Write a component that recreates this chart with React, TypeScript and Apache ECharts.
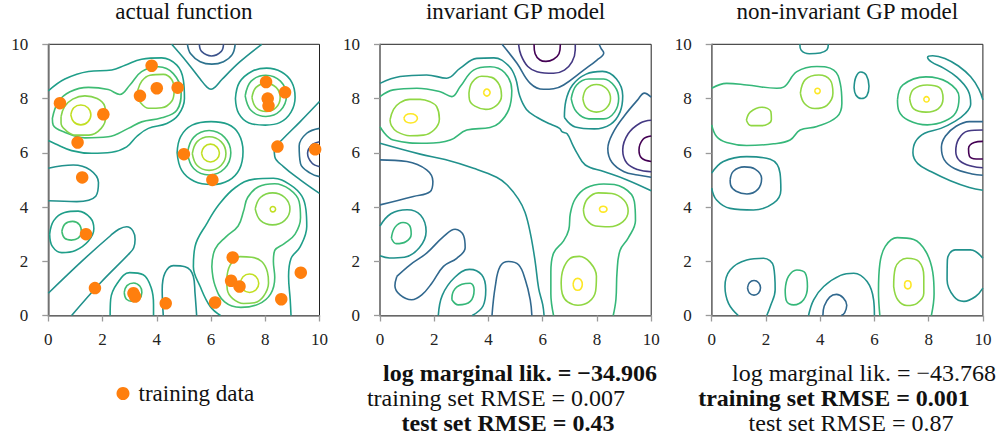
import React, { useEffect, useRef } from "react";
import * as echarts from "echarts";

type Pt = [number, number];
type Contour = [number, Pt[]];

// ---------------- data ----------------
const axisRange = [0, 10];
const axisStep = 2;

const panelTitles = ["actual function", "invariant GP model", "non-invariant GP model"];

const trainingPoints: Pt[] = [
  [0.43, 7.83], [1.08, 6.38], [2.03, 7.42], [1.25, 5.09], [1.39, 3.0], [1.72, 1.01],
  [3.14, 0.82], [3.2, 0.7], [4.33, 0.45], [3.38, 8.1], [3.81, 9.21], [4.0, 8.38],
  [4.77, 8.4], [5.0, 5.95], [6.05, 5.0], [6.15, 0.48], [6.8, 2.14], [6.74, 1.28],
  [7.05, 1.07], [8.03, 8.61], [8.09, 8.0], [8.12, 7.73], [8.73, 8.23], [8.45, 6.23],
  [9.84, 6.13], [9.31, 1.58], [8.59, 0.6],
];

const statLabels = ["log marginal lik.", "training set RMSE", "test set RMSE"];
const invariantStats = ["−34.906", "0.007", "0.43"];
const invariantBest = [true, false, true];
const nonInvariantStats = ["−43.768", "0.001", "0.87"];
const nonInvariantBest = [false, true, false];

// contour level index + traced points (x, y)
const actualContours: Contour[] = [
  [2, [[4.55, 10], [5.1, 9.36], [5.6, 8.72], [5.85, 8.42], [6.0, 8.34], [6.15, 8.42], [6.4, 8.7], [7.07, 9.36], [7.87, 10]]],
  [1, [[5.13, 10], [5.25, 9.65], [5.6, 9.36], [6.03, 9.27], [6.46, 9.36], [6.78, 9.62], [6.89, 10]]],
  [0, [[5.57, 10], [5.65, 9.74], [6.02, 9.57], [6.38, 9.74], [6.46, 10]]],
  [3, [[0, 8.28], [0.61, 8.72], [1.48, 9.0], [2.34, 9.05], [2.83, 9.23], [3.44, 9.45], [4.18, 9.5], [4.74, 9.23], [4.98, 8.68], [5.02, 8.0], [4.8, 7.4], [4.37, 7.08], [3.69, 6.9], [3.26, 6.6], [2.89, 6.22], [2.34, 6.02], [1.6, 5.98], [0.86, 6.08], [0.25, 6.33], [0, 6.45]]],
  [4, [[0.15, 7.27], [0.37, 7.88], [0.8, 8.25], [1.48, 8.41], [2.21, 8.33], [2.64, 8.15], [3.01, 8.5], [3.44, 8.99], [4.06, 9.17], [4.61, 8.92], [4.9, 8.25], [4.74, 7.57], [4.18, 7.29], [3.44, 7.14], [2.95, 6.9], [2.21, 6.59], [1.35, 6.55], [0.62, 6.75], [0.18, 7.02], [0.15, 7.27]]],
  [5, [[0.47, 7.33], [0.6, 7.7], [0.9, 7.98], [1.35, 8.1], [1.8, 8.0], [2.08, 7.72], [2.12, 7.35], [1.95, 6.9], [1.5, 6.65], [1.0, 6.65], [0.62, 6.85], [0.47, 7.1], [0.47, 7.33]]],
  [6, [[0.83, 7.4], [0.94, 7.66], [1.2, 7.76], [1.46, 7.66], [1.57, 7.4], [1.46, 7.14], [1.2, 7.03], [0.94, 7.14], [0.83, 7.4]]],
  [5, [[3.3, 8.31], [3.45, 8.65], [3.75, 8.86], [4.24, 8.89], [4.55, 8.7], [4.64, 8.3], [4.55, 7.9], [4.18, 7.66], [3.7, 7.64], [3.4, 7.85], [3.3, 8.1], [3.3, 8.31]]],
  [3, [[4.75, 6.0], [4.88, 6.6], [5.3, 7.02], [6.0, 7.15], [6.62, 7.05], [7.02, 6.7], [7.18, 6.05], [7.05, 5.4], [6.65, 4.98], [6.02, 4.83], [5.38, 4.95], [4.92, 5.35], [4.75, 6.0]]],
  [4, [[5.13, 6.0], [5.36, 6.57], [5.93, 6.82], [6.5, 6.57], [6.73, 6.0], [6.5, 5.42], [5.93, 5.18], [5.36, 5.42], [5.13, 6.0]]],
  [5, [[5.31, 5.97], [5.49, 6.41], [5.93, 6.59], [6.37, 6.41], [6.55, 5.97], [6.37, 5.53], [5.93, 5.35], [5.49, 5.53], [5.31, 5.97]]],
  [6, [[5.65, 5.99], [5.75, 6.22], [5.98, 6.32], [6.21, 6.22], [6.31, 5.99], [6.21, 5.76], [5.98, 5.66], [5.75, 5.76], [5.65, 5.99]]],
  [3, [[6.9, 8.0], [7.05, 8.6], [7.5, 9.0], [8.05, 9.12], [8.6, 8.98], [8.98, 8.6], [9.1, 8.05], [8.95, 7.5], [8.55, 7.12], [8.0, 7.02], [7.4, 7.1], [7.02, 7.45], [6.9, 8.0]]],
  [4, [[7.26, 8.1], [7.48, 8.64], [8.02, 8.86], [8.56, 8.64], [8.78, 8.1], [8.56, 7.56], [8.02, 7.34], [7.48, 7.56], [7.26, 8.1]]],
  [5, [[7.51, 8.04], [7.66, 8.41], [8.03, 8.56], [8.4, 8.41], [8.55, 8.04], [8.4, 7.67], [8.03, 7.52], [7.66, 7.67], [7.51, 8.04]]],
  [2, [[10, 7.89], [9.29, 7.15], [8.61, 6.47], [8.33, 6.15], [8.35, 5.86], [8.67, 5.49], [9.29, 5.0], [10, 4.5]]],
  [1, [[10, 6.9], [9.53, 6.72], [9.25, 6.25], [9.3, 5.6], [9.66, 5.25], [10, 5.12]]],
  [0, [[10, 6.41], [9.72, 6.29], [9.56, 5.98], [9.72, 5.62], [10, 5.49]]],
  [3, [[6.35, 0], [5.97, 0.33], [5.6, 1.07], [5.35, 1.8], [5.41, 2.54], [5.85, 3.4], [6.3, 4.1], [6.9, 4.72], [7.6, 5.03], [8.3, 5.06], [8.95, 4.8], [9.35, 4.4], [9.5, 3.9], [9.53, 3.28], [9.29, 2.54], [8.95, 2.1], [8.86, 1.44], [8.92, 0.58], [8.95, 0]]],
  [4, [[6.03, 1.8], [6.15, 2.45], [6.55, 2.9], [7.0, 3.3], [7.2, 3.85], [7.35, 4.35], [7.75, 4.75], [8.35, 4.86], [8.9, 4.65], [9.25, 4.2], [9.3, 3.6], [9.1, 3.0], [8.7, 2.65], [8.35, 2.4], [8.3, 2.0], [8.35, 1.4], [8.2, 0.8], [7.75, 0.42], [7.1, 0.3], [6.5, 0.5], [6.15, 1.1], [6.03, 1.8]]],
  [5, [[7.63, 3.93], [7.82, 4.35], [8.27, 4.52], [8.72, 4.35], [8.91, 3.93], [8.72, 3.51], [8.27, 3.34], [7.82, 3.51], [7.63, 3.93]]],
  [6, [[8.18, 3.92], [8.21, 3.99], [8.28, 4.02], [8.35, 3.99], [8.38, 3.92], [8.35, 3.85], [8.28, 3.82], [8.21, 3.85], [8.18, 3.92]]],
  [5, [[6.58, 1.32], [6.7, 1.85], [7.07, 2.17], [7.5, 2.15], [7.87, 1.99], [8.08, 1.6], [8.12, 1.2], [7.93, 0.7], [7.6, 0.47], [7.2, 0.44], [6.8, 0.62], [6.6, 0.95], [6.58, 1.32]]],
  [6, [[7.08, 1.19], [7.18, 1.43], [7.42, 1.53], [7.66, 1.43], [7.76, 1.19], [7.66, 0.95], [7.42, 0.85], [7.18, 0.95], [7.08, 1.19]]],
  [3, [[0.05, 3.0], [0.2, 3.5], [0.6, 3.8], [1.1, 3.85], [1.55, 3.6], [1.68, 3.2], [1.48, 2.75], [1.0, 2.4], [0.5, 2.32], [0.15, 2.55], [0.05, 3.0]]],
  [4, [[0.5, 3.1], [0.62, 3.38], [0.9, 3.47], [1.15, 3.35], [1.22, 3.08], [1.1, 2.85], [0.85, 2.78], [0.6, 2.85], [0.5, 3.1]]],
  [3, [[2.28, 0], [2.3, 0.6], [2.55, 1.2], [3.0, 1.58], [3.5, 1.5], [3.8, 1.0], [3.88, 0.4], [3.88, 0]]],
  [4, [[2.8, 0.85], [2.9, 1.1], [3.15, 1.2], [3.38, 1.08], [3.45, 0.85], [3.35, 0.6], [3.12, 0.52], [2.88, 0.6], [2.8, 0.85]]],
  [2, [[0, 0.82], [1.29, 2.05], [2.3, 2.95], [2.6, 3.18], [2.89, 3.27], [3.12, 3.12], [3.2, 2.8], [3.15, 2.5], [3.0, 2.3], [1.91, 1.19], [0.86, 0]]],
  [2, [[4.24, 0], [4.2, 0.95], [4.3, 1.56], [4.61, 1.84], [5.04, 1.8], [5.35, 1.44], [5.41, 0.82], [5.47, 0]]],
  [2, [[0, 5.43], [0.92, 5.55], [1.54, 5.37], [1.85, 4.9], [1.75, 4.4], [1.05, 4.2], [0, 4.23]]],
];

const invariantContours: Contour[] = [
  [0, [[5.68, 10], [5.72, 9.65], [5.9, 9.42], [6.12, 9.37], [6.4, 9.45], [6.6, 9.65], [6.65, 10]]],
  [1, [[5.11, 10], [5.2, 9.6], [5.45, 9.18], [5.79, 8.99], [6.4, 8.93], [6.8, 9.05], [7.08, 9.35], [7.2, 9.8], [7.2, 10]]],
  [2, [[4.5, 10], [5.05, 9.3], [5.54, 8.56], [6.03, 8.34], [6.4, 8.36], [6.77, 8.5], [7.51, 9.05], [8.0, 9.42], [8.25, 9.68], [8.15, 9.85], [8.08, 10]]],
  [3, [[0, 8.56], [0.74, 8.81], [1.72, 8.87], [2.46, 8.75], [2.96, 9.12], [3.57, 9.48], [4.2, 9.5], [4.75, 9.2], [5.0, 8.75], [5.15, 8.1], [5.4, 7.6], [5.8, 7.3], [6.3, 7.05], [6.62, 6.9], [6.72, 6.77], [6.9, 6.7], [7.1, 6.3], [7.27, 5.98], [7.57, 5.55], [8.25, 5.31], [9.11, 5.0], [10, 4.6]]],
  [3, [[0, 6.35], [1.48, 5.95], [2.4, 5.75], [3.45, 5.43], [4.3, 5.1], [4.68, 4.82], [5.1, 4.3], [5.35, 3.8], [5.55, 3.0], [5.72, 2.0], [5.85, 1.0], [6.0, 0.4], [6.05, 0]]],
  [3, [[6.8, 7.3], [6.85, 7.9], [7.1, 8.5], [7.6, 8.9], [8.2, 9.0], [8.72, 8.72], [8.95, 8.1], [8.85, 7.5], [8.5, 7.05], [7.9, 6.88], [7.2, 6.95], [6.8, 7.3]]],
  [4, [[7.05, 8.0], [7.25, 8.5], [7.7, 8.72], [8.25, 8.72], [8.65, 8.45], [8.8, 8.0], [8.65, 7.5], [8.25, 7.25], [7.7, 7.25], [7.25, 7.5], [7.05, 8.0]]],
  [5, [[7.48, 8.0], [7.62, 8.37], [7.98, 8.52], [8.35, 8.37], [8.5, 8.0], [8.35, 7.65], [7.98, 7.5], [7.62, 7.65], [7.48, 8.0]]],
  [2, [[10, 8.05], [9.75, 8.2], [9.5, 7.95], [9.0, 7.35], [8.6, 6.75], [8.4, 6.15], [8.55, 5.65], [9.0, 5.3], [9.5, 5.18], [10, 5.1]]],
  [1, [[10, 7.2], [9.6, 7.1], [9.15, 6.7], [8.95, 6.1], [9.1, 5.62], [9.5, 5.38], [10, 5.3]]],
  [0, [[10, 6.62], [9.7, 6.5], [9.55, 6.1], [9.65, 5.8], [10, 5.68]]],
  [4, [[0, 8.07], [0.49, 8.32], [1.36, 8.38], [2.22, 8.25], [2.65, 8.07], [2.96, 8.44], [3.45, 9.05], [4.06, 9.17], [4.6, 8.95], [4.86, 8.3], [4.75, 7.6], [4.4, 7.1], [4.06, 6.93], [3.2, 6.84], [2.59, 6.47], [1.72, 6.35], [0.49, 6.47], [0, 6.96]]],
  [5, [[0.37, 7.21], [0.5, 7.6], [0.74, 7.85], [1.1, 7.97], [1.48, 7.97], [1.85, 7.88], [2.09, 7.7], [2.19, 7.25], [2.0, 6.85], [1.6, 6.65], [1.1, 6.63], [0.62, 6.78], [0.42, 7.0], [0.37, 7.21]]],
  [6, [[0.88, 7.27], [0.95, 7.39], [1.13, 7.44], [1.31, 7.39], [1.38, 7.27], [1.31, 7.15], [1.13, 7.1], [0.95, 7.15], [0.88, 7.27]]],
  [5, [[3.28, 8.2], [3.4, 8.6], [3.75, 8.82], [4.12, 8.78], [4.4, 8.5], [4.48, 8.1], [4.3, 7.75], [3.9, 7.6], [3.5, 7.72], [3.3, 7.95], [3.28, 8.2]]],
  [6, [[3.82, 8.22], [3.86, 8.31], [3.94, 8.35], [4.02, 8.31], [4.06, 8.22], [4.02, 8.13], [3.94, 8.09], [3.86, 8.13], [3.82, 8.22]]],
  [2, [[0.62, 1.44], [1.11, 1.87], [1.72, 2.3], [2.34, 2.91], [2.77, 3.18], [3.08, 2.95], [3.14, 2.5], [2.83, 2.11], [2.34, 1.81], [1.91, 1.19], [1.54, 0.76], [1.17, 0.58], [0.74, 0.76], [0.55, 1.1], [0.62, 1.44]]],
  [2, [[0, 5.74], [0.99, 5.68], [1.72, 5.37], [1.95, 4.94], [1.85, 4.57], [1.23, 4.39], [0, 4.08]]],
  [3, [[0, 3.3], [0.4, 3.75], [1.0, 3.9], [1.5, 3.7], [1.7, 3.1], [1.45, 2.5], [0.9, 2.15], [0.35, 2.12], [0, 2.2]]],
  [4, [[0.42, 2.85], [0.55, 3.25], [0.85, 3.43], [1.1, 3.3], [1.15, 3.0], [0.95, 2.72], [0.6, 2.65], [0.42, 2.85]]],
  [3, [[2.15, 0], [2.3, 0.75], [2.75, 1.4], [3.3, 1.7], [3.75, 1.5], [3.9, 0.95], [3.8, 0.35], [3.4, 0]]],
  [4, [[2.65, 0.58], [2.71, 0.9], [3.02, 1.15], [3.33, 1.19], [3.47, 0.95], [3.33, 0.52], [2.89, 0.39], [2.65, 0.58]]],
  [2, [[4.13, 0], [4.25, 1.07], [4.43, 1.81], [4.74, 1.99], [5.11, 1.87], [5.36, 1.31], [5.54, 0.58], [5.6, 0]]],
  [4, [[6.4, 0], [6.3, 0.8], [6.3, 1.6], [6.4, 2.3], [6.77, 2.75], [6.96, 3.16], [7.02, 3.77], [7.2, 4.3], [7.6, 4.7], [8.25, 4.85], [8.99, 4.7], [9.38, 4.2], [9.42, 3.5], [9.15, 2.85], [8.85, 2.4], [8.74, 1.6], [8.7, 0.6], [8.6, 0]]],
  [5, [[7.5, 3.9], [7.65, 4.3], [8.05, 4.52], [8.55, 4.5], [9.0, 4.25], [9.15, 3.85], [8.95, 3.45], [8.45, 3.27], [7.95, 3.3], [7.6, 3.55], [7.5, 3.9]]],
  [6, [[8.09, 3.92], [8.13, 4.0], [8.23, 4.03], [8.33, 4.0], [8.37, 3.92], [8.33, 3.84], [8.23, 3.81], [8.13, 3.84], [8.09, 3.92]]],
  [5, [[6.68, 1.2], [6.75, 1.7], [7.0, 2.1], [7.35, 2.18], [7.75, 1.95], [7.98, 1.45], [7.95, 0.9], [7.7, 0.5], [7.3, 0.38], [6.92, 0.5], [6.72, 0.8], [6.68, 1.2]]],
  [6, [[7.12, 1.15], [7.17, 1.31], [7.29, 1.37], [7.41, 1.31], [7.46, 1.15], [7.41, 0.99], [7.29, 0.93], [7.17, 0.99], [7.12, 1.15]]],
];

const nonInvariantContours: Contour[] = [
  [3, [[3.25, 10], [3.3, 9.78], [3.6, 9.65], [4.0, 9.68], [4.25, 9.8], [4.3, 10]]],
  [4, [[0, 8.38], [0.55, 8.56], [1.29, 8.5], [2.4, 8.38], [2.65, 8.42], [3.14, 8.99], [3.88, 9.18], [4.5, 9.05], [4.74, 8.56], [4.8, 7.83], [4.62, 7.33], [3.88, 6.97], [3.26, 6.84], [2.89, 6.47], [2.28, 6.33], [1.29, 6.27], [0.55, 6.38], [0.18, 6.6], [0, 7.03]]],
  [5, [[1.28, 7.2], [1.42, 7.5], [1.85, 7.68], [2.18, 7.52], [2.2, 7.22], [1.85, 7.0], [1.45, 7.0], [1.28, 7.2]]],
  [5, [[3.27, 8.2], [3.45, 8.7], [3.95, 8.87], [4.37, 8.68], [4.47, 8.2], [4.25, 7.75], [3.8, 7.63], [3.42, 7.82], [3.27, 8.2]]],
  [6, [[3.8, 8.28], [3.83, 8.35], [3.9, 8.38], [3.97, 8.35], [4.0, 8.28], [3.97, 8.21], [3.9, 8.18], [3.83, 8.21], [3.8, 8.28]]],
  [3, [[10, 7.95], [9.85, 8.35], [9.55, 8.8], [9.1, 9.2], [8.6, 9.48], [8.15, 9.58], [7.96, 9.52], [8.1, 9.35], [8.55, 9.12], [9.05, 8.78], [9.45, 8.3], [9.55, 7.8], [9.35, 7.45], [8.95, 7.15], [8.45, 6.9], [7.85, 6.72], [7.52, 6.42], [7.42, 6.0], [7.6, 5.6], [8.1, 5.3], [8.8, 4.97], [9.5, 4.72], [10, 4.62]]],
  [2, [[10, 7.15], [9.5, 7.15], [9.0, 6.97], [8.62, 6.62], [8.47, 6.2], [8.57, 5.75], [8.95, 5.42], [9.6, 5.22], [10, 5.17]]],
  [1, [[10, 6.84], [9.45, 6.8], [9.1, 6.5], [9.0, 6.05], [9.15, 5.7], [9.6, 5.5], [10, 5.45]]],
  [0, [[10, 6.42], [9.68, 6.38], [9.47, 6.15], [9.5, 5.88], [9.75, 5.77], [10, 5.77]]],
  [4, [[6.85, 7.95], [7.05, 8.5], [7.9, 8.8], [8.7, 8.6], [9.12, 8.05], [9.0, 7.48], [8.6, 7.17], [7.95, 7.03], [7.25, 7.2], [6.9, 7.55], [6.85, 7.95]]],
  [5, [[7.3, 8.0], [7.45, 8.35], [7.94, 8.5], [8.4, 8.4], [8.53, 8.0], [8.35, 7.62], [7.9, 7.5], [7.45, 7.62], [7.3, 8.0]]],
  [6, [[7.82, 7.97], [7.85, 8.04], [7.92, 8.07], [7.99, 8.04], [8.02, 7.97], [7.99, 7.9], [7.92, 7.87], [7.85, 7.9], [7.82, 7.97]]],
  [3, [[5.25, 8.4], [5.32, 8.8], [5.5, 8.98], [5.7, 8.86], [5.8, 8.45], [5.72, 8.1], [5.52, 8.0], [5.32, 8.12], [5.25, 8.4]]],
  [3, [[0, 5.25], [0.43, 5.68], [1.29, 5.86], [2.16, 5.76], [2.52, 5.25], [2.55, 4.63], [2.28, 4.14], [1.54, 3.89], [0.68, 3.95], [0.18, 4.26], [0, 4.7]]],
  [2, [[0.68, 5.0], [0.8, 5.32], [1.2, 5.48], [1.6, 5.4], [1.84, 5.05], [1.7, 4.65], [1.3, 4.48], [0.9, 4.58], [0.7, 4.8], [0.68, 5.0]]],
  [3, [[0.98, 0], [0.62, 0.45], [0.49, 1.07], [0.68, 1.68], [1.29, 2.05], [1.91, 2.11], [2.28, 1.81], [2.34, 0.95], [2.16, 0.33], [2.03, 0]]],
  [2, [[1.32, 1.02], [1.39, 1.21], [1.56, 1.29], [1.73, 1.21], [1.8, 1.02], [1.73, 0.83], [1.56, 0.75], [1.39, 0.83], [1.32, 1.02]]],
  [4, [[2.71, 0.95], [2.83, 1.44], [3.14, 1.68], [3.45, 1.56], [3.53, 1.07], [3.39, 0.58], [3.02, 0.39], [2.75, 0.55], [2.71, 0.95]]],
  [3, [[3.57, 0], [3.76, 0.58], [4.13, 1.07], [4.75, 1.48], [5.24, 1.56], [5.73, 1.25], [5.97, 0.58], [6.0, 0]]],
  [2, [[4.1, 0], [4.15, 0.35], [4.35, 0.68], [4.6, 0.78], [4.85, 0.65], [4.98, 0.38], [4.9, 0.1], [4.78, 0]]],
  [4, [[6.2, 0], [6.15, 0.9], [6.2, 1.9], [6.4, 2.55], [6.84, 2.87], [7.45, 2.8], [7.9, 2.35], [8.15, 1.6], [8.2, 0.8], [8.1, 0]]],
  [5, [[6.71, 1.07], [6.77, 1.75], [7.2, 2.11], [7.64, 1.99], [7.82, 1.44], [7.82, 0.82], [7.57, 0.45], [7.2, 0.37], [6.86, 0.58], [6.71, 1.07]]],
  [6, [[7.11, 1.13], [7.14, 1.24], [7.23, 1.28], [7.32, 1.24], [7.35, 1.13], [7.32, 1.02], [7.23, 0.98], [7.14, 1.02], [7.11, 1.13]]],
  [3, [[10, 2.11], [9.54, 2.42], [8.98, 2.42], [8.69, 2.05], [8.68, 1.31], [8.93, 0.7], [9.3, 0.52], [9.73, 0.7], [10, 1.01]]],
];

// ---------------- styles / layout ----------------
const FONT = "'Liberation Serif', 'Times New Roman', serif";
const actualPalette = ["#3b528b", "#2c728e", "#21918c", "#1f9e89", "#3fbc73", "#84d44b", "#c2df23"];
const modelPalette = ["#440154", "#443983", "#31688e", "#21918c", "#35b779", "#90d743", "#fde725"];
const gridLefts = [48.3, 380, 711.7];
const gridTop = 44.3;
const gridSize = 271.2;

function buildOption() {
  const grids = gridLefts.map((left) => ({
    left, top: gridTop, width: gridSize, height: gridSize,
    show: true, borderColor: "#222", borderWidth: 1, backgroundColor: "transparent",
    outerBoundsMode: "none", containLabel: false,
  }));
  const axisCommon = {
    type: "value", min: axisRange[0], max: axisRange[1], interval: axisStep,
    axisLine: { show: true, onZero: false, lineStyle: { color: "#7f7f7f", width: 1.5 } },
    axisTick: { show: true, inside: false, length: 6, lineStyle: { color: "#9a9a9a", width: 1.3 } },
    splitLine: { show: false },
  };
  const xAxes = gridLefts.map((_, i) => ({
    ...axisCommon, gridIndex: i, position: "bottom",
    axisLabel: { margin: 15, fontSize: 17, fontFamily: FONT, color: "#222" },
  }));
  const yAxes = gridLefts.map((_, i) => ({
    ...axisCommon, gridIndex: i, position: "left",
    axisLabel: { margin: 20, fontSize: 17, fontFamily: FONT, color: "#222" },
  }));

  const series: any[] = [];
  const panels: [Contour[], string[]][] = [
    [actualContours, actualPalette],
    [invariantContours, modelPalette],
    [nonInvariantContours, modelPalette],
  ];
  panels.forEach(([contours, palette], pi) => {
    contours.forEach(([level, pts]) => {
      series.push({
        type: "line", xAxisIndex: pi, yAxisIndex: pi, data: pts,
        smooth: 0.4, symbol: "none", showSymbol: false, silent: true, clip: true,
        lineStyle: { color: palette[level], width: 1.6 }, z: 2,
      });
    });
  });
  series.push({
    type: "scatter", name: "training data", xAxisIndex: 0, yAxisIndex: 0,
    data: trainingPoints, symbol: "circle", symbolSize: 12.5,
    itemStyle: { color: "#ff7f0e", opacity: 1 }, z: 5, silent: true,
  });

  const texts: any[] = [];
  panelTitles.forEach((t, i) => {
    texts.push({
      type: "text", x: gridLefts[i] + gridSize / 2, y: 11.5,
      style: { text: t, fontSize: 23, fontFamily: FONT, fill: "#111", align: "center", verticalAlign: "middle", textAlign: "center", textVerticalAlign: "middle" },
    });
  });
  const statCentersInv = [520, 496, 508];
  const statCentersNon = [864, 834, 851];
  const statRows = [373, 398, 423];
  statLabels.forEach((lab, r) => {
    texts.push({
      type: "text", x: statCentersInv[r], y: statRows[r],
      style: { text: `${lab} = ${invariantStats[r]}`, fontSize: 24, fontFamily: FONT, fontWeight: invariantBest[r] ? "bold" : "normal", fill: "#111", align: "center", verticalAlign: "middle", textAlign: "center", textVerticalAlign: "middle" },
    });
    texts.push({
      type: "text", x: statCentersNon[r], y: statRows[r],
      style: { text: `${lab} = ${nonInvariantStats[r]}`, fontSize: 24, fontFamily: FONT, fontWeight: nonInvariantBest[r] ? "bold" : "normal", fill: "#111", align: "center", verticalAlign: "middle", textAlign: "center", textVerticalAlign: "middle" },
    });
  });

  return {
    animation: false,
    backgroundColor: "#ffffff",
    grid: grids,
    xAxis: xAxes,
    yAxis: yAxes,
    legend: {
      show: true, data: [{ name: "training data", icon: "circle" }],
      left: 111.5, top: 377, itemWidth: 13, itemHeight: 13, selectedMode: false,
      textStyle: { fontSize: 23, fontFamily: FONT, color: "#111", padding: [0, 0, 0, 4] },
    },
    series,
    graphic: { elements: texts },
  };
}

export default function App() {
  const ref = useRef<HTMLDivElement>(null);
  useEffect(() => {
    if (!ref.current) return;
    const chart = echarts.init(ref.current, undefined, { renderer: "svg" });
    chart.setOption(buildOption() as any);
    return () => chart.dispose();
  }, []);
  return (
    <div
      ref={ref}
      style={{ position: "fixed", left: 0, top: 0, width: 1000, height: 438, background: "#fff" }}
    />
  );
}
